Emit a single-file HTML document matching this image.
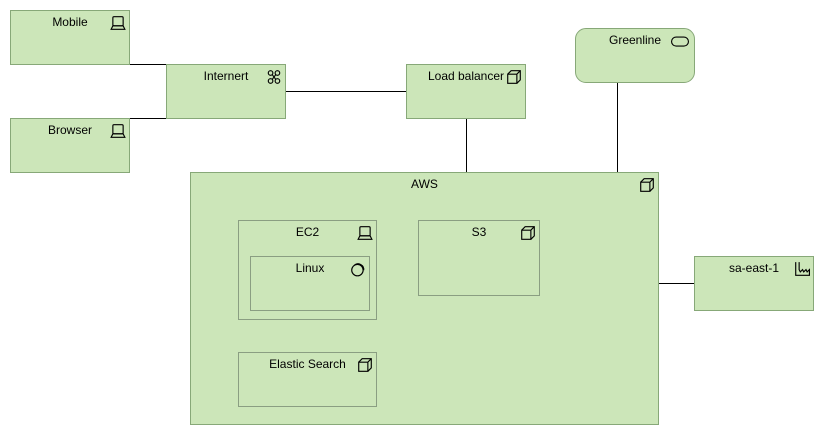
<!DOCTYPE html>
<html><head><meta charset="utf-8"><style>
body{margin:0;width:824px;height:435px;background:#fff;position:relative;overflow:hidden;font-family:"Liberation Sans",sans-serif;font-size:12px;color:#000}
.b{position:absolute;background:#cce6b9;border:1px solid #87a878;box-sizing:border-box}
.i{background:transparent;border-color:#8a9e82}
.t{position:absolute;left:0;right:0;top:4px;text-align:center;line-height:14px;white-space:nowrap}
svg.ic{position:absolute;top:4px;right:3px;width:16px;height:16px;overflow:visible}
.h{position:absolute;height:1px;background:#000}
.v{position:absolute;width:1px;background:#000}
</style></head><body>
<div class="h" style="left:129px;top:64px;width:37px"></div>
<div class="h" style="left:129px;top:118px;width:37px"></div>
<div class="h" style="left:285px;top:91px;width:121px"></div>
<div class="v" style="left:466px;top:118px;height:54px"></div>
<div class="v" style="left:617px;top:82px;height:90px"></div>
<div class="h" style="left:658px;top:283px;width:36px"></div>

<div class="b" style="left:10px;top:10px;width:120px;height:55px"><div class="t">Mobile</div>
<svg class="ic" viewBox="0 0 14 14"><rect x="2.5" y="1.5" width="9" height="8" rx="1" fill="none" stroke="#000"/><path d="M1 12.5H13L11.5 9.5H2.5Z" fill="none" stroke="#000"/></svg></div>
<div class="b" style="left:10px;top:118px;width:120px;height:55px"><div class="t">Browser</div>
<svg class="ic" viewBox="0 0 14 14"><rect x="2.5" y="1.5" width="9" height="8" rx="1" fill="none" stroke="#000"/><path d="M1 12.5H13L11.5 9.5H2.5Z" fill="none" stroke="#000"/></svg></div>
<div class="b" style="left:166px;top:64px;width:120px;height:55px"><div class="t">Internert</div>
<svg class="ic" viewBox="0 0 14 14" fill="none" stroke="#000"><circle cx="4" cy="3.5" r="2"/><circle cx="10" cy="3.5" r="2"/><circle cx="4" cy="10.5" r="2"/><circle cx="10" cy="10.5" r="2"/><path d="M5.5 5L8.5 9M8.5 5L5.5 9"/></svg></div>
<div class="b" style="left:406px;top:64px;width:120px;height:55px"><div class="t">Load balancer</div>
<svg class="ic" viewBox="0 0 14 14" fill="none" stroke="#000"><path d="M1.5 4.5H9.5V12.5H1.5Z M1.5 4.5L4.5 1.5H12.5V9.5L9.5 12.5 M9.5 4.5L12.5 1.5"/></svg></div>
<div class="b" style="left:575px;top:28px;width:120px;height:55px;border-radius:11px"><div class="t">Greenline</div>
<svg class="ic" viewBox="0 0 16 14" style="right:5px;width:18px"><rect x="0.5" y="3.5" width="15" height="8" rx="4" fill="none" stroke="#000"/></svg></div>

<div class="b" style="left:190px;top:172px;width:469px;height:253px"><div class="t">AWS</div>
<svg class="ic" viewBox="0 0 14 14" fill="none" stroke="#000"><path d="M1.5 4.5H9.5V12.5H1.5Z M1.5 4.5L4.5 1.5H12.5V9.5L9.5 12.5 M9.5 4.5L12.5 1.5"/></svg></div>
<div class="b i" style="left:238px;top:220px;width:139px;height:100px"><div class="t">EC2</div>
<svg class="ic" viewBox="0 0 14 14"><rect x="2.5" y="1.5" width="9" height="8" rx="1" fill="none" stroke="#000"/><path d="M1 12.5H13L11.5 9.5H2.5Z" fill="none" stroke="#000"/></svg></div>
<div class="b i" style="left:250px;top:256px;width:120px;height:55px"><div class="t">Linux</div>
<svg class="ic" viewBox="0 0 14 14" fill="none" stroke="#000"><circle cx="6.5" cy="8" r="5"/><path d="M4 3.5A5 5 0 0 1 12 8"/></svg></div>
<div class="b i" style="left:418px;top:220px;width:122px;height:76px"><div class="t">S3</div>
<svg class="ic" viewBox="0 0 14 14" fill="none" stroke="#000"><path d="M1.5 4.5H9.5V12.5H1.5Z M1.5 4.5L4.5 1.5H12.5V9.5L9.5 12.5 M9.5 4.5L12.5 1.5"/></svg></div>
<div class="b i" style="left:238px;top:352px;width:139px;height:55px"><div class="t">Elastic Search</div>
<svg class="ic" viewBox="0 0 14 14" fill="none" stroke="#000"><path d="M1.5 4.5H9.5V12.5H1.5Z M1.5 4.5L4.5 1.5H12.5V9.5L9.5 12.5 M9.5 4.5L12.5 1.5"/></svg></div>

<div class="b" style="left:694px;top:256px;width:120px;height:55px"><div class="t">sa-east-1</div>
<svg class="ic" viewBox="0 0 14 14" fill="none" stroke="#000"><path d="M1.5 1V12.5H13.5V7.5L11.5 9.5L10.5 7.5L8.5 9.5L7.5 7.5L5.5 9.5L4.5 7.5V1"/></svg></div>
</body></html>
